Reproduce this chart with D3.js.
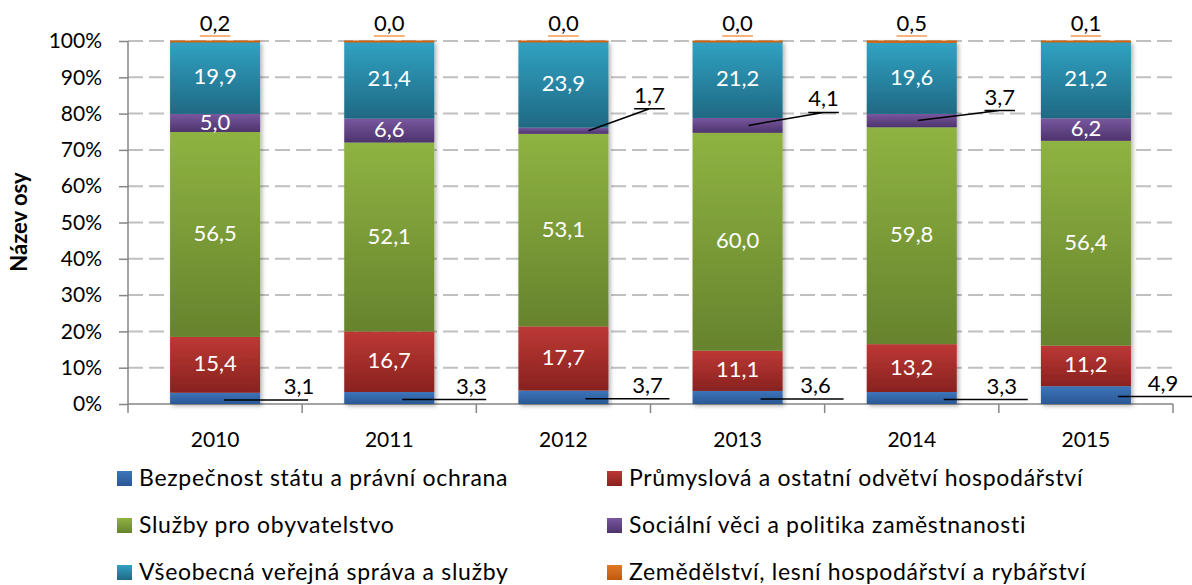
<!DOCTYPE html>
<html lang="cs">
<head>
<meta charset="utf-8">
<title>Struktura výdajů</title>
<script src="https://d3js.org/d3.v7.min.js"></script>
<style>
body { margin: 0; background: #fff; }
text { font-family: Lato, "Open Sans", sans-serif; }
.axis path, .axis line { stroke: #868686; stroke-width: 1.5; }
.axis text { font-size: 21px; fill: #000; }
</style>
</head>
<body>
<div id="chart"></div>
<script>

// categories
var years = ["2010", "2011", "2012", "2013", "2014", "2015"];

var keys = ["Bezpečnost státu a právní ochrana",
  "Průmyslová a ostatní odvětví hospodářství",
  "Služby pro obyvatelstvo",
  "Sociální věci a politika zaměstnanosti",
  "Všeobecná veřejná správa a služby",
  "Zemědělství, lesní hospodářství a rybářství"];

// series values (share in %)
var bezpecnost  = [3.1, 3.3, 3.7, 3.6, 3.3, 4.9];
var prumysl     = [15.4, 16.7, 17.7, 11.1, 13.2, 11.2];
var sluzby      = [56.5, 52.1, 53.1, 60.0, 59.8, 56.4];
var socialni    = [5.0, 6.6, 1.7, 4.1, 3.7, 6.2];
var vseobecna   = [19.9, 21.4, 23.9, 21.2, 19.6, 21.2];
var zemedelstvi = [0.2, 0.0, 0.0, 0.0, 0.5, 0.1];

// y tick labels
var yTicks = [0, 10, 20, 30, 40, 50, 60, 70, 80, 90, 100];

var series = [bezpecnost, prumysl, sluzby, socialni, vseobecna, zemedelstvi];

// gradient colours, top -> bottom
var shades = [["#3d74bb", "#2a5894"],
  ["#bd3835", "#88221f"],
  ["#8fb342", "#66832d"],
  ["#78579f", "#4d346c"],
  ["#31a2c3", "#1f6983"],
  ["#e07a25", "#c0580c"]];

// callouts placed by hand in the original (offsets from bar centre)
var blueCallout = [[9, 84, 93], [13, 82, 97], [22, 84, 106], [23, 78, 106], [32, 90, 116], [32, 77, 116]];
var purpleCallout = [null, null, [25, 86, -22], [11, 86, -13], [6, 88, -10], null];

var table = years.map(function(y, i) {
  var row = {year: y};
  keys.forEach(function(k, j) { row[k] = series[j][i]; });
  return row;
});

var width = 1192, height = 585;
var plotLeft = 128, plotRight = 1173, plotTop = 41, plotBottom = 404;

var svg = d3.select("#chart").append("svg")
  .attr("width", width)
  .attr("height", height);

var defs = svg.append("defs");
shades.forEach(function(s, i) {
  var g = defs.append("linearGradient")
    .attr("id", "grad" + i)
    .attr("x1", 0).attr("y1", 0).attr("x2", 0).attr("y2", 1);
  g.append("stop").attr("offset", "0%").attr("stop-color", s[0]);
  g.append("stop").attr("offset", "100%").attr("stop-color", s[1]);
});
var shadow = defs.append("filter").attr("id", "shadow")
  .attr("x", "-10%").attr("y", "-10%").attr("width", "130%").attr("height", "130%");
shadow.append("feDropShadow")
  .attr("dx", 2).attr("dy", 2).attr("stdDeviation", 2)
  .attr("flood-color", "#000").attr("flood-opacity", 0.3);

var x = d3.scaleBand()
  .domain(years)
  .range([plotLeft, plotRight])
  .paddingInner(0.483)
  .paddingOuter(0.2415);

var y = d3.scaleLinear()
  .domain([0, 100])
  .range([plotBottom, plotTop]);

var stack = d3.stack().keys(keys).offset(d3.stackOffsetExpand);
var stacked = stack(table);

// gridlines
svg.append("g")
  .selectAll("line")
  .data(yTicks.filter(function(d) { return d > 0; }))
  .enter()
  .append("line")
    .attr("x1", plotLeft)
    .attr("x2", plotRight)
    .attr("y1", function(d) { return y(d); })
    .attr("y2", function(d) { return y(d); })
    .style("stroke", "#c0c0c0")
    .style("stroke-width", 2)
    .style("stroke-dasharray", "15,6");

// y axis
svg.append("g")
  .attr("class", "axis")
  .attr("transform", "translate(" + plotLeft + ",0)")
  .call(d3.axisLeft(y).tickValues(yTicks).tickSize(9).tickPadding(17)
    .tickFormat(function(d) { return d + "%"; }))
  .call(function(g) { g.select(".domain").attr("d", "M0," + plotTop + "V" + plotBottom); });

// x axis: labels
svg.append("g")
  .attr("class", "axis")
  .attr("transform", "translate(0," + plotBottom + ")")
  .call(d3.axisBottom(x).tickSize(0).tickPadding(28))
  .call(function(g) { g.select(".domain").remove(); });

// x axis: line + boundary ticks
var bounds = d3.range(years.length + 1).map(function(i) { return plotLeft + i * x.step(); });
var xa = svg.append("g").attr("class", "axis");
xa.append("path").attr("d", "M" + plotLeft + "," + plotBottom + "H" + plotRight).style("fill", "none");
xa.selectAll("line").data(bounds).enter().append("line")
  .attr("x1", function(d) { return d; }).attr("x2", function(d) { return d; })
  .attr("y1", plotBottom).attr("y2", plotBottom + 9);

// bars
var layers = svg.append("g").attr("filter", "url(#shadow)")
  .selectAll("g")
  .data(stacked)
  .enter()
  .append("g")
    .style("fill", function(d, i) { return "url(#grad" + i + ")"; });

layers.selectAll("rect")
  .data(function(d) { return d; })
  .enter()
  .append("rect")
    .attr("x", function(d) { return x(d.data.year); })
    .attr("width", x.bandwidth())
    .attr("y", function(d) { return y(d[1] * 100); })
    .attr("height", function(d) { return y(d[0] * 100) - y(d[1] * 100); });

// orange top sliver drawn as a thin edge, as in the original
svg.append("g").selectAll("line")
  .data(stacked[5])
  .enter()
  .append("line")
    .attr("x1", function(d) { return x(d.data.year); })
    .attr("x2", function(d) { return x(d.data.year) + x.bandwidth(); })
    .attr("y1", function(d) { return y(d[1] * 100) + 0.5; })
    .attr("y2", function(d) { return y(d[1] * 100) + 0.5; })
    .style("stroke", "#cf6410")
    .style("stroke-width", 2);

var fmt = function(v) { return v.toFixed(1).replace(".", ","); };
var mid = function(d) { return (y(d[0] * 100) + y(d[1] * 100)) / 2; };
var cx = function(d) { return x(d.data.year) + x.bandwidth() / 2; };

var labels = svg.append("g").style("font-size", "22px");

// labels inside the bars
stacked.forEach(function(layer, k) {
  layer.forEach(function(d, i) {
    var v = series[k][i];
    var inside = (k == 1 || k == 2 || k == 4 || (k == 3 && !purpleCallout[i]));
    if (!inside) return;
    labels.append("text")
      .attr("x", cx(d))
      .attr("y", mid(d))
      .attr("dy", "0.3em")
      .attr("text-anchor", "middle")
      .style("fill", "#fff")
      .text(fmt(v));
  });
});

// blue callouts under the bars
stacked[0].forEach(function(d, i) {
  var c = blueCallout[i], ly = mid(d) + 1.5;
  labels.append("line")
    .attr("x1", cx(d) + c[0]).attr("x2", cx(d) + c[2])
    .attr("y1", ly).attr("y2", ly)
    .style("stroke", "#000").style("stroke-width", 1.5);
  labels.append("text")
    .attr("x", cx(d) + c[1])
    .attr("y", ly - 6)
    .attr("text-anchor", "middle")
    .text(fmt(bezpecnost[i]));
});

// purple callouts
stacked[3].forEach(function(d, i) {
  var c = purpleCallout[i];
  if (!c) return;
  var ay = mid(d), ly = ay + c[2], lx = cx(d) + c[1];
  var t = labels.append("text")
    .attr("x", lx)
    .attr("y", ly - 6)
    .attr("text-anchor", "middle")
    .text(fmt(socialni[i]));
  var w = t.node().getBBox().width;
  labels.append("path")
    .attr("d", "M" + (cx(d) + c[0]) + "," + ay + "L" + lx + "," + ly +
      "M" + (lx - w / 2) + "," + ly + "H" + (lx + w / 2))
    .style("fill", "none")
    .style("stroke", "#000").style("stroke-width", 1.5);
});

// orange labels above the bars
stacked[5].forEach(function(d, i) {
  var t = labels.append("text")
    .attr("x", cx(d))
    .attr("y", y(100) - 10)
    .attr("text-anchor", "middle")
    .text(fmt(zemedelstvi[i]));
  var w = t.node().getBBox().width;
  labels.append("line")
    .attr("x1", cx(d) - w / 2).attr("x2", cx(d) + w / 2)
    .attr("y1", y(100) - 5).attr("y2", y(100) - 5)
    .style("stroke", "#f59a52").style("stroke-width", 1.5);
});

// y axis title
svg.append("text")
  .attr("transform", "translate(27,222) rotate(-90)")
  .attr("text-anchor", "middle")
  .style("font-size", "22px")
  .style("font-weight", "bold")
  .text("Název osy");

// legend
var legend = svg.append("g")
  .selectAll("g")
  .data(keys)
  .enter()
  .append("g")
    .attr("transform", function(d, i) {
      return "translate(" + (i % 2 ? 607 : 117) + "," + (486 + Math.floor(i / 2) * 47) + ")";
    });

legend.append("rect")
  .attr("y", -15)
  .attr("width", 15)
  .attr("height", 15)
  .style("fill", function(d, i) { return "url(#grad" + i + ")"; });

legend.append("text")
  .attr("x", 22)
  .style("font-size", "23px")
  .style("letter-spacing", "0.7px")
  .text(function(d) { return d; });

</script>
</body>
</html>
